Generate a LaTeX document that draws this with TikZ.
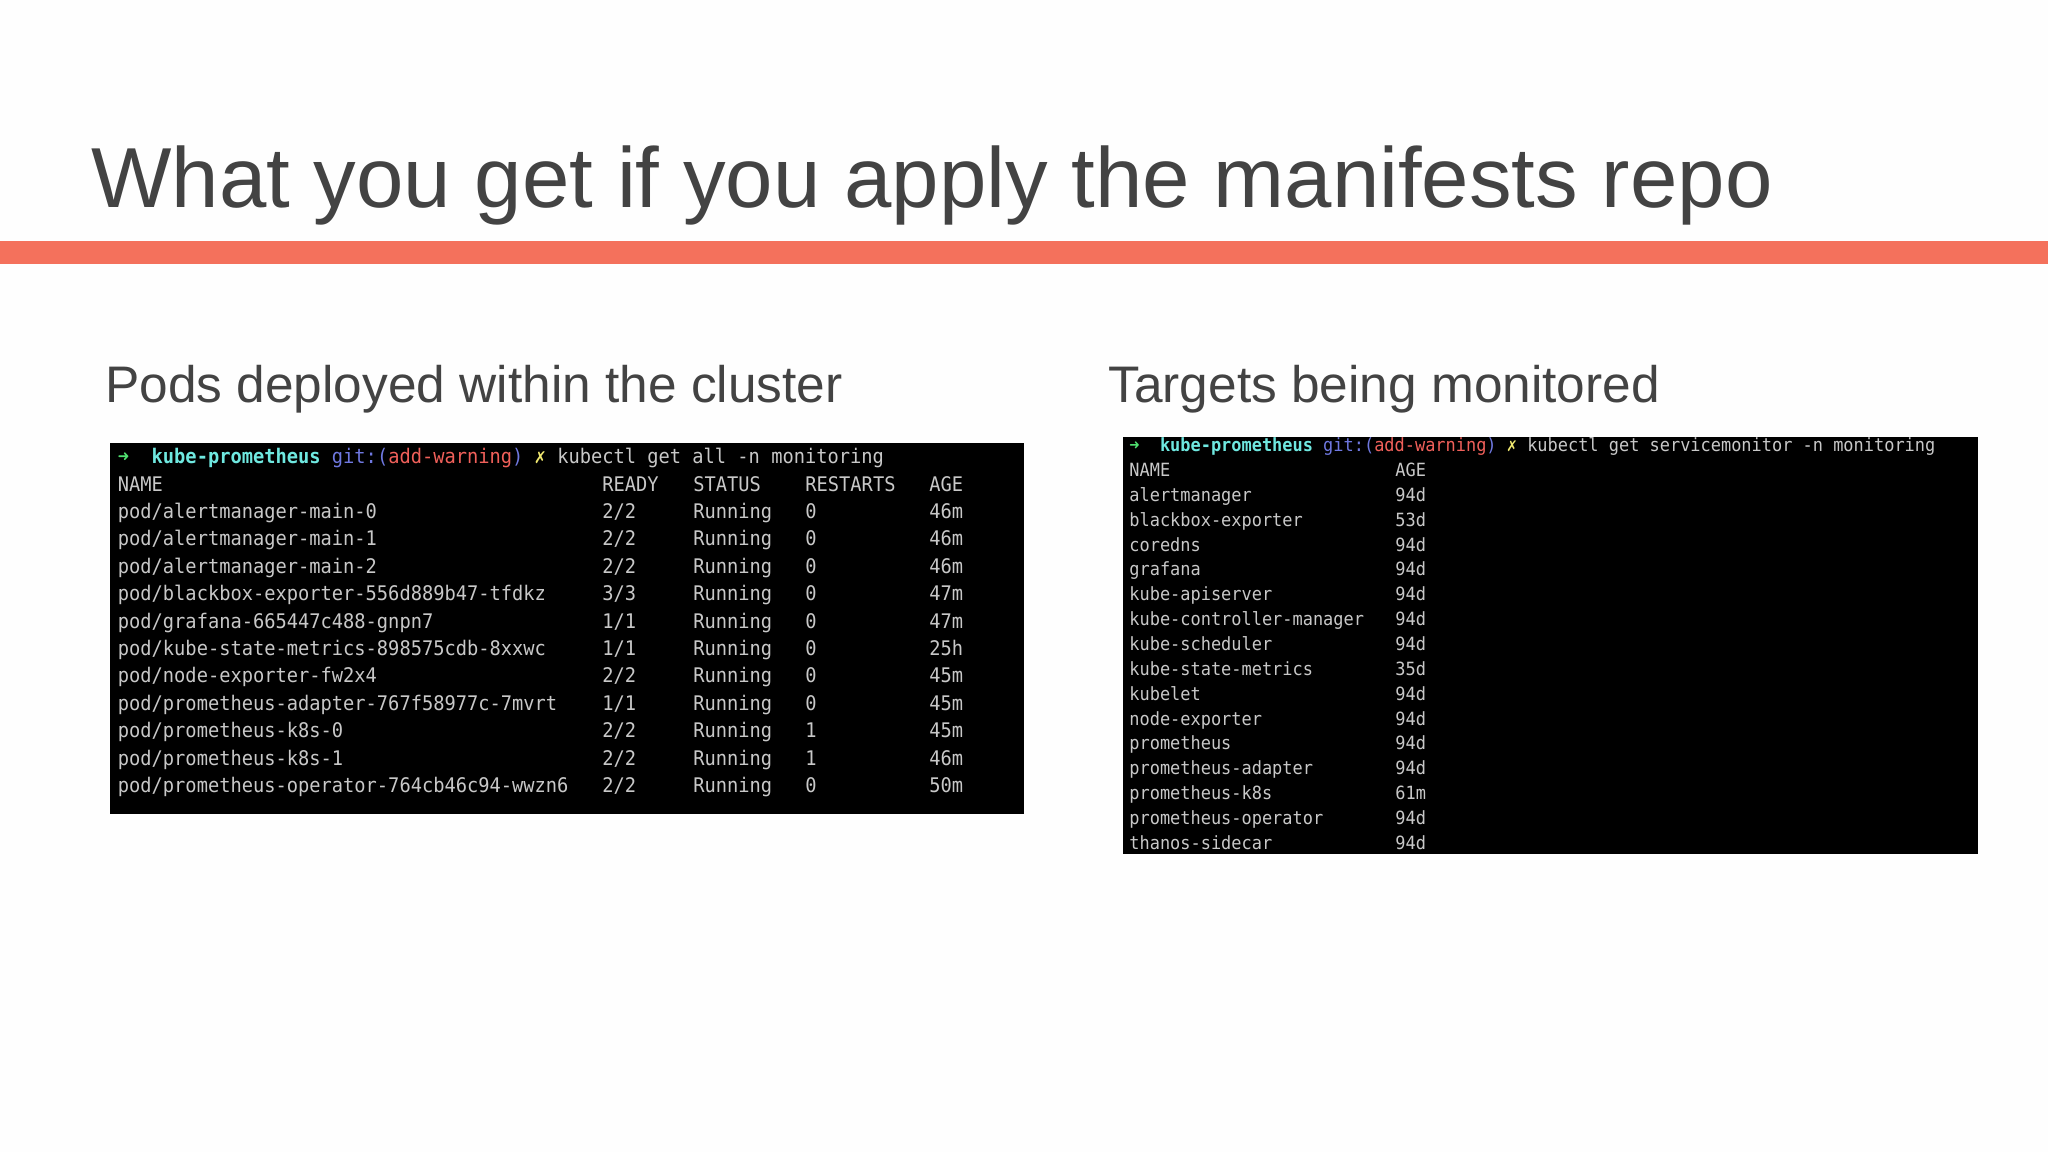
\documentclass[tikz,border=0pt]{standalone}
\usepackage{fontspec}
\setmainfont{Liberation Sans}
\newfontfamily\termfont[FakeStretch=.93]{DejaVu Sans Mono}
\definecolor{slidegrey}{HTML}{434343}
\definecolor{slidebar}{HTML}{F4715C}
\definecolor{termgrey}{HTML}{C8C8C8}
\definecolor{termcyan}{HTML}{6FE8E0}
\definecolor{termblue}{HTML}{6F78E0}
\definecolor{termred}{HTML}{F0605A}
\definecolor{termgreen}{HTML}{50E070}
\definecolor{termyellow}{HTML}{F0E870}
\tikzset{
	slidetext/.style={anchor=base west,inner sep=0pt,text=slidegrey},
	bigterm/.style={anchor=base west,inner sep=0pt,text=termgrey,font=\termfont\fontsize{10.06}{12}\selectfont},
	smallterm/.style={anchor=base west,inner sep=0pt,text=termgrey,font=\termfont\fontsize{9.11}{11}\selectfont},
}
\newcommand\kubeprompt[1]{{\color{termgreen}➜}\ \ \textcolor{termcyan}{\bfseries kube-prometheus} \textcolor{termblue}{git:(}\textcolor{termred}{add-warning}\textcolor{termblue}{)} \textcolor{termyellow}{✗} #1}
\begin{document}
\begin{tikzpicture}[x=.5pt,y=-.5pt]
	\useasboundingbox[fill={rgb,255:red,254;green,254;blue,254}] (0,0) rectangle (2048,1152);
	\fill[slidebar] (0,241) rectangle (2048,264);
	\node[slidetext,font=\fontsize{42.6}{50}\selectfont] (title) at (91,207) {What you get if you apply the manifests repo};
	\node[slidetext,font=\fontsize{25.7}{30}\selectfont] (podshead) at (105,402) {Pods deployed within the cluster};
	\node[slidetext,font=\fontsize{25.7}{30}\selectfont] (targetshead) at (1108,402) {Targets being monitored};
	% left terminal
	\fill[black] (110,443) rectangle (1024,814);
	\node[bigterm] (podprompt) at (117.5,463) {\kubeprompt{kubectl get all -n monitoring}};
	\node[bigterm] (podname) at (117.5,491) {NAME};
	\node[bigterm] (podready) at (602,491) {READY};
	\node[bigterm] (podstatus) at (693,491) {STATUS};
	\node[bigterm] (podrestarts) at (805,491) {RESTARTS};
	\node[bigterm] (podage) at (929,491) {AGE};
	\foreach \i/\pod/\rdy/\tot/\rst/\age in {
		1/alertmanager-main-0/2/2/0/46m,
		2/alertmanager-main-1/2/2/0/46m,
		3/alertmanager-main-2/2/2/0/46m,
		4/blackbox-exporter-556d889b47-tfdkz/3/3/0/47m,
		5/grafana-665447c488-gnpn7/1/1/0/47m,
		6/kube-state-metrics-898575cdb-8xxwc/1/1/0/25h,
		7/node-exporter-fw2x4/2/2/0/45m,
		8/prometheus-adapter-767f58977c-7mvrt/1/1/0/45m,
		9/prometheus-k8s-0/2/2/1/45m,
		10/prometheus-k8s-1/2/2/1/46m,
		11/prometheus-operator-764cb46c94-wwzn6/2/2/0/50m}{
		\node[bigterm] (pod\i) at (117.5,491+27.4*\i) {pod/\pod};
		\node[bigterm] (ready\i) at (602,491+27.4*\i) {\rdy/\tot};
		\node[bigterm] (status\i) at (693,491+27.4*\i) {Running};
		\node[bigterm] (restarts\i) at (805,491+27.4*\i) {\rst};
		\node[bigterm] (age\i) at (929,491+27.4*\i) {\age};
	}
	% right terminal
	\fill[black] (1123,437) rectangle (1978,854);
	\node[smallterm] (monprompt) at (1129,451.5) {\kubeprompt{kubectl get servicemonitor -n monitoring}};
	\node[smallterm] (monname) at (1129,476.5) {NAME};
	\node[smallterm] (monage) at (1395,476.5) {AGE};
	\foreach \i/\mon/\age in {
		1/alertmanager/94d,
		2/blackbox-exporter/53d,
		3/coredns/94d,
		4/grafana/94d,
		5/kube-apiserver/94d,
		6/kube-controller-manager/94d,
		7/kube-scheduler/94d,
		8/kube-state-metrics/35d,
		9/kubelet/94d,
		10/node-exporter/94d,
		11/prometheus/94d,
		12/prometheus-adapter/94d,
		13/prometheus-k8s/61m,
		14/prometheus-operator/94d,
		15/thanos-sidecar/94d}{
		\node[smallterm] (mon\i) at (1129,476.5+24.85*\i) {\mon};
		\node[smallterm] (monage\i) at (1395,476.5+24.85*\i) {\age};
	}
\end{tikzpicture}
\end{document}
